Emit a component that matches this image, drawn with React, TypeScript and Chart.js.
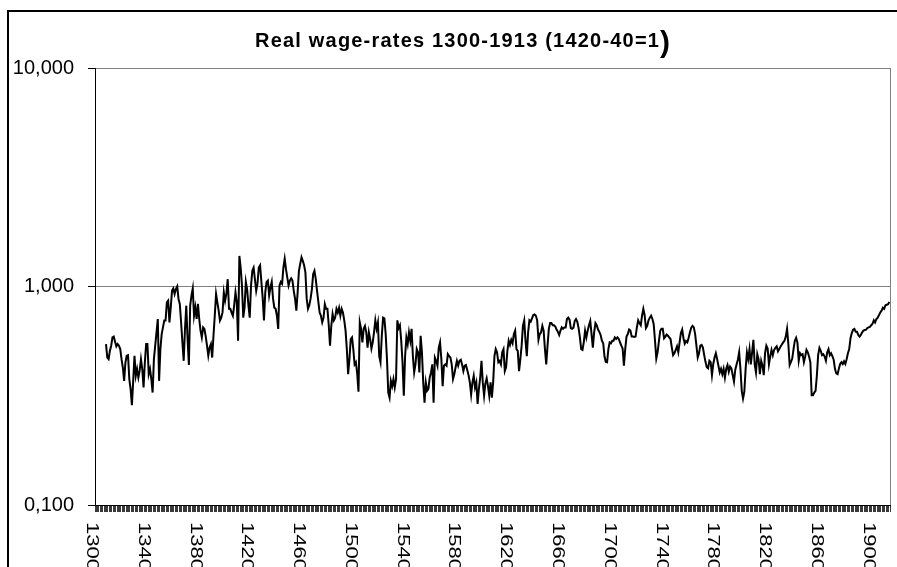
import React, { useEffect, useRef } from 'react';
import { Chart, registerables } from 'chart.js';

Chart.register(...registerables);

// ---------- data ----------
const FIRST_YEAR = 1300;
const LAST_YEAR = 1913;
const years: string[] = [];
for (let y = FIRST_YEAR; y <= LAST_YEAR; y++) years.push(String(y));

const wages1300s: (number | null)[] = [
  null, null, null, null, null, null, null, null, 0.545, 0.473,
  0.465, 0.508, 0.536, 0.585, 0.59, 0.559, 0.532, 0.545, 0.536, 0.517,
  0.465, 0.426, 0.37, 0.449, 0.482, 0.485, 0.377, 0.339, 0.286, 0.37,
  0.482, 0.39, 0.419, 0.383, 0.412, 0.465, 0.419, 0.345, 0.449, 0.545,
  0.545, 0.397, 0.419, 0.377, 0.327, 0.465, 0.536, 0.617, 0.71, 0.37,
  0.517, 0.606, 0.65, 0.698, 0.698, 0.846, 0.862, 0.685, 0.803, 0.957,
  0.98, 0.924, 0.974, 1.002, 0.877, 0.832, 0.685, 0.555, 0.457, 0.639,
  0.817, 0.575, 0.437, 0.817, 0.908, 0.98, 0.735, 0.803, 0.71, 0.832,
  0.71, 0.628, 0.585, 0.65, 0.639, 0.591, 0.536, 0.482, 0.526, 0.545,
  0.473, 0.595, 0.735, 0.924, 0.846, 0.775, 0.698, 0.72, 0.761, 0.94,
];
const wages1400s: number[] = [
  0.86, 0.93, 1.08, 0.79, 0.79, 0.76, 0.735, 0.82, 0.94, 0.85,
  0.565, 1.38, 1.22, 1.01, 0.72, 0.8, 1.05, 0.97, 0.82, 0.72,
  1.01, 1.18, 1.22, 1.08, 0.955, 1.03, 1.22, 1.25, 1.05, 0.89,
  0.7, 0.94, 1.05, 1.065, 0.91, 0.99, 1.05, 0.88, 0.8, 0.79,
  0.735, 0.64, 1.01, 1.05, 1.03, 1.22, 1.34, 1.2, 1.1, 1.01,
  1.065, 1.09, 1.065, 0.955, 0.88, 0.775, 0.94, 1.18, 1.27, 1.36,
  1.31, 1.25, 1.16, 0.88, 0.79, 0.82, 0.88, 0.97, 1.14, 1.18,
  1.08, 0.955, 0.85, 0.76, 0.735, 0.685, 0.72, 0.83, 0.79, 0.79,
  0.67, 0.536, 0.66, 0.75, 0.7, 0.72, 0.79, 0.76, 0.8, 0.735,
  0.79, 0.76, 0.7, 0.63, 0.517, 0.397, 0.465, 0.575, 0.585, 0.517,
];
const wages1500s: number[] = [
  0.44, 0.45, 0.4, 0.33, 0.685, 0.64, 0.555, 0.64, 0.66, 0.617,
  0.525, 0.617, 0.575, 0.52, 0.555, 0.617, 0.7, 0.64, 0.685, 0.48,
  0.45, 0.595, 0.72, 0.715, 0.606, 0.465, 0.327, 0.31, 0.37, 0.35,
  0.377, 0.345, 0.377, 0.7, 0.645, 0.665, 0.565, 0.45, 0.316, 0.48,
  0.585, 0.545, 0.617, 0.565, 0.64, 0.48, 0.404, 0.44, 0.517, 0.5,
  0.404, 0.595, 0.5, 0.364, 0.294, 0.364, 0.333, 0.34, 0.383, 0.404,
  0.44, 0.294, 0.473, 0.457, 0.434, 0.525, 0.555, 0.465, 0.35, 0.434,
  0.44, 0.434, 0.49, 0.48, 0.473, 0.44, 0.377, 0.397, 0.427, 0.457,
  0.434, 0.457, 0.462, 0.44, 0.41, 0.434, 0.437, 0.415, 0.393, 0.364,
  0.32, 0.364, 0.39, 0.345, 0.364, 0.29, 0.34, 0.383, 0.457, 0.364,
];
const wages1600s: number[] = [
  0.316, 0.36, 0.38, 0.35, 0.316, 0.364, 0.31, 0.364, 0.48, 0.517,
  0.5, 0.45, 0.457, 0.44, 0.5, 0.517, 0.41, 0.427, 0.508, 0.565,
  0.54, 0.57, 0.55, 0.606, 0.628, 0.517, 0.508, 0.41, 0.465, 0.536,
  0.66, 0.7, 0.565, 0.48, 0.617, 0.7, 0.69, 0.715, 0.74, 0.745,
  0.735, 0.7, 0.57, 0.606, 0.617, 0.66, 0.628, 0.517, 0.44, 0.536,
  0.64, 0.68, 0.68, 0.665, 0.665, 0.655, 0.635, 0.62, 0.6, 0.628,
  0.65, 0.64, 0.65, 0.65, 0.71, 0.72, 0.705, 0.645, 0.64, 0.648,
  0.695, 0.71, 0.69, 0.645, 0.585, 0.517, 0.513, 0.555, 0.628, 0.585,
  0.628, 0.665, 0.695, 0.606, 0.525, 0.617, 0.68, 0.665, 0.635, 0.62,
  0.6, 0.565, 0.55, 0.478, 0.452, 0.45, 0.517, 0.555, 0.55, 0.565,
];
const wages1700s: number[] = [
  0.565, 0.585, 0.575, 0.585, 0.575, 0.555, 0.536, 0.52, 0.434, 0.517,
  0.59, 0.606, 0.635, 0.628, 0.59, 0.59, 0.587, 0.59, 0.65, 0.7,
  0.68, 0.665, 0.735, 0.79, 0.74, 0.645, 0.66, 0.7, 0.72, 0.735,
  0.71, 0.672, 0.565, 0.468, 0.5, 0.56, 0.625, 0.64, 0.64, 0.58,
  0.59, 0.603, 0.595, 0.585, 0.575, 0.525, 0.485, 0.495, 0.513, 0.532,
  0.5, 0.555, 0.612, 0.635, 0.58, 0.548, 0.563, 0.555, 0.583, 0.617,
  0.648, 0.66, 0.65, 0.606, 0.536, 0.473, 0.495, 0.536, 0.54, 0.525,
  0.485, 0.452, 0.427, 0.422, 0.457, 0.45, 0.393, 0.442, 0.473, 0.495,
  0.465, 0.434, 0.404, 0.42, 0.397, 0.42, 0.383, 0.42, 0.437, 0.407,
  0.43, 0.422, 0.393, 0.367, 0.416, 0.44, 0.462, 0.5, 0.42, 0.333,
];
const wages1800s: number[] = [
  0.307, 0.33, 0.42, 0.5, 0.465, 0.517, 0.44, 0.5, 0.57, 0.44,
  0.404, 0.49, 0.465, 0.397, 0.457, 0.434, 0.393, 0.495, 0.536, 0.52,
  0.44, 0.478, 0.513, 0.485, 0.513, 0.524, 0.532, 0.505, 0.517, 0.532,
  0.543, 0.555, 0.565, 0.59, 0.64, 0.545, 0.437, 0.452, 0.468, 0.517,
  0.565, 0.583, 0.555, 0.457, 0.495, 0.485, 0.49, 0.45, 0.478, 0.513,
  0.5, 0.478, 0.45, 0.318, 0.318, 0.327, 0.333, 0.39, 0.485, 0.524,
  0.508, 0.485, 0.49, 0.478, 0.457, 0.5, 0.517, 0.485, 0.495, 0.48,
  0.462, 0.42, 0.4, 0.397, 0.42, 0.442, 0.45, 0.442, 0.455, 0.442,
  0.465, 0.495, 0.517, 0.58, 0.612, 0.635, 0.64, 0.62, 0.62, 0.6,
  0.59, 0.6, 0.617, 0.628, 0.632, 0.635, 0.645, 0.65, 0.653, 0.665,
];
const wages1900s: number[] = [
  0.675, 0.7, 0.685, 0.71, 0.72, 0.74, 0.76, 0.775, 0.8, 0.79,
  0.82, 0.825, 0.83, 0.85,
];

const realWages: (number | null)[] = [
  ...wages1300s, ...wages1400s, ...wages1500s, ...wages1600s,
  ...wages1700s, ...wages1800s, ...wages1900s,
];

const yTickValues = [0.1, 1, 10];
const xLabelYears = [
  1300, 1340, 1380, 1420, 1460, 1500, 1540, 1580,
  1620, 1660, 1700, 1740, 1780, 1820, 1860, 1900,
];
const titleMain = 'Real wage-rates 1300-1913 (1420-40=1';
const titleTail = ')';

const FONT = '"Liberation Sans", Arial, Helvetica, sans-serif';

// ---------- plugins ----------
const decorPlugin = {
  id: 'decor',
  afterDraw(chart: any) {
    const ctx: CanvasRenderingContext2D = chart.ctx;
    const area = chart.chartArea;
    ctx.save();

    // outer chart frame (left and top edges visible)
    ctx.strokeStyle = '#000';
    ctx.lineWidth = 2;
    ctx.beginPath();
    ctx.moveTo(8, 600);
    ctx.lineTo(8, 11);
    ctx.lineTo(960, 11);
    ctx.stroke();

    // right grey border of plot area
    ctx.strokeStyle = '#808080';
    ctx.lineWidth = 1;
    ctx.beginPath();
    ctx.moveTo(Math.round(area.right) + 0.5, area.top);
    ctx.lineTo(Math.round(area.right) + 0.5, area.bottom);
    ctx.stroke();

    // title
    ctx.fillStyle = '#000';
    ctx.textBaseline = 'alphabetic';
    ctx.textAlign = 'left';
    ctx.font = `bold 20px ${FONT}`;
    try { (ctx as any).letterSpacing = '1.2px'; } catch (e) {}
    ctx.fillText(titleMain, 255, 47);
    const w = ctx.measureText(titleMain).width;
    try { (ctx as any).letterSpacing = '0px'; } catch (e) {}
    ctx.font = `bold 30px ${FONT}`;
    ctx.fillText(titleTail, 255 + w, 52);

    // rotated x labels (reading top to bottom)
    const xs = chart.scales.x;
    const size = 16;
    const capH = size * 0.716;
    ctx.font = `${size}px ${FONT}`;
    xLabelYears.forEach((yr) => {
      const idx = years.indexOf(String(yr));
      const px = xs.getPixelForValue(idx) - 3;
      ctx.save();
      ctx.translate(px - capH / 2, area.bottom + 17);
      ctx.rotate(Math.PI / 2);
      ctx.scale(1.38, 1);
      ctx.fillText(String(yr), 0, 0);
      ctx.restore();
    });

    ctx.restore();
  },
};

export default function App() {
  const canvasRef = useRef<HTMLCanvasElement | null>(null);

  useEffect(() => {
    const canvas = canvasRef.current;
    if (!canvas) return;
    const chart = new Chart(canvas, {
      type: 'line',
      data: {
        labels: years,
        datasets: [
          {
            data: realWages,
            borderColor: '#000',
            borderWidth: 2,
            pointRadius: 0,
            pointHoverRadius: 0,
            tension: 0,
            spanGaps: false,
            fill: false,
          },
        ],
      },
      options: {
        animation: false,
        responsive: false,
        maintainAspectRatio: false,
        devicePixelRatio: 1,
        events: [],
        layout: { padding: { top: 68, right: 7, left: 0, bottom: 0 } },
        plugins: {
          legend: { display: false },
          tooltip: { enabled: false },
          title: { display: false },
        },
        scales: {
          x: {
            type: 'category',
            offset: true,
            afterFit: (s: any) => { s.height = 62; },
            grid: {
              offset: true,
              drawOnChartArea: false,
              drawTicks: true,
              tickLength: 7,
              color: '#3a3a3a',
              lineWidth: 1,
            },
            border: { display: true, color: '#000', width: 1 },
            ticks: { display: false, autoSkip: false },
          },
          y: {
            type: 'logarithmic',
            min: 0.1,
            max: 10,
            afterBuildTicks: (s: any) => {
              s.ticks = yTickValues.map((v) => ({ value: v }));
            },
            afterFit: (s: any) => { s.width = 95; },
            grid: {
              color: (c: any) => (c.tick && c.tick.value === 0.1 ? '#000' : '#808080'),
              tickColor: '#000',
              tickLength: 7,
              lineWidth: 1,
              drawTicks: true,
            },
            border: { display: true, color: '#000', width: 1 },
            ticks: {
              autoSkip: false,
              padding: 14,
              color: '#000',
              font: { family: FONT, size: 20 },
              callback: (v: any) => Number(v).toFixed(3).replace('.', ','),
            },
          },
        },
      },
      plugins: [decorPlugin],
    } as any);
    return () => chart.destroy();
  }, []);

  return (
    <div style={{ position: 'absolute', left: 0, top: 0, width: 897, height: 567, background: '#fff' }}>
      <canvas ref={canvasRef} width={897} height={567} style={{ display: 'block' }} />
    </div>
  );
}
